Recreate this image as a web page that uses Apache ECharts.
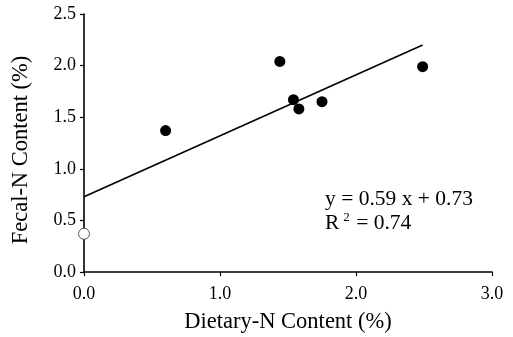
<!DOCTYPE html>
<html><head><meta charset="utf-8">
<script src="https://cdn.jsdelivr.net/npm/echarts@6/dist/echarts.min.js"></script>
<style>html,body{margin:0;padding:0;background:#fff}#c{width:513px;height:337px}</style>
</head><body><div id="c"></div>
<script>
const dietaryN = [0.60, 1.44, 1.54, 1.58, 1.75, 2.49];
const fecalN = [1.37, 2.04, 1.67, 1.58, 1.65, 1.99];
const openX = [0.0];
const openY = [0.37];
const slope = 0.59;
const intercept = 0.73;
const eqText = 'y = 0.59 x + 0.73';
const r2Text = ' = 0.74';

const FONT = '"Liberation Serif", "Times New Roman", serif';
const chart = echarts.init(document.getElementById('c'));
const xEnd = Math.max(...dietaryN);
const lineData = [[0, intercept], [xEnd, slope * xEnd + intercept]];

chart.setOption({
  animation: false,
  grid: {left: 84, right: 21, top: 14, bottom: 65, outerBoundsMode: 'none', containLabel: false},
  xAxis: {
    type: 'value', min: 0, max: 3, interval: 1,
    name: 'Dietary-N Content (%)', nameLocation: 'middle', nameGap: 39,
    nameTextStyle: {fontFamily: FONT, fontSize: 22.5, color: '#000'},
    axisLine: {show: true, onZero: false, lineStyle: {color: '#000', width: 1.6}},
    axisTick: {show: true, inside: false, length: 4, lineStyle: {color: '#000', width: 1.2}},
    axisLabel: {fontFamily: FONT, fontSize: 18, color: '#000', margin: 13, formatter: v => v.toFixed(1)},
    splitLine: {show: false}
  },
  yAxis: {
    type: 'value', min: 0, max: 2.5, interval: 0.5,
    name: 'Fecal-N Content (%)', nameLocation: 'middle', nameGap: 51, nameRotate: 90,
    nameTextStyle: {fontFamily: FONT, fontSize: 22.5, color: '#000', padding: [0, 14, 0, 0]},
    axisLine: {show: true, onZero: false, lineStyle: {color: '#000', width: 1.6}},
    axisTick: {show: true, inside: false, length: 4, lineStyle: {color: '#000', width: 1.2}},
    axisLabel: {fontFamily: FONT, fontSize: 18, color: '#000', margin: 8, formatter: v => v.toFixed(1)},
    splitLine: {show: false}
  },
  series: [
    {type: 'line', data: lineData, showSymbol: false, symbol: 'none',
     lineStyle: {color: '#000', width: 1.6}, z: 2},
    {type: 'scatter', data: dietaryN.map((x, i) => [x, fecalN[i]]), symbolSize: 11,
     itemStyle: {color: '#000', opacity: 1}, z: 3},
    {type: 'scatter', data: openX.map((x, i) => [x, openY[i]]), symbolSize: 11,
     itemStyle: {color: '#fff', borderColor: '#555', borderWidth: 1, opacity: 1}, z: 5}
  ],
  graphic: [
    {type: 'text', x: 325, y: 199, style: {text: eqText, font: '21.5px ' + FONT, fill: '#000', verticalAlign: 'middle'}},
    {type: 'text', x: 325, y: 223, style: {
      text: '{a|R}{s|2}{a|' + r2Text + '}',
      verticalAlign: 'middle',
      rich: {
        a: {fontFamily: FONT, fontSize: 21.5, fill: '#000', color: '#000', height: 24, lineHeight: 24, verticalAlign: 'bottom'},
        s: {fontFamily: FONT, fontSize: 13, fill: '#000', color: '#000', height: 13, lineHeight: 13, verticalAlign: 'top', padding: [0, 1, 0, 4]}
      }
    }}
  ]
});
</script></body></html>
